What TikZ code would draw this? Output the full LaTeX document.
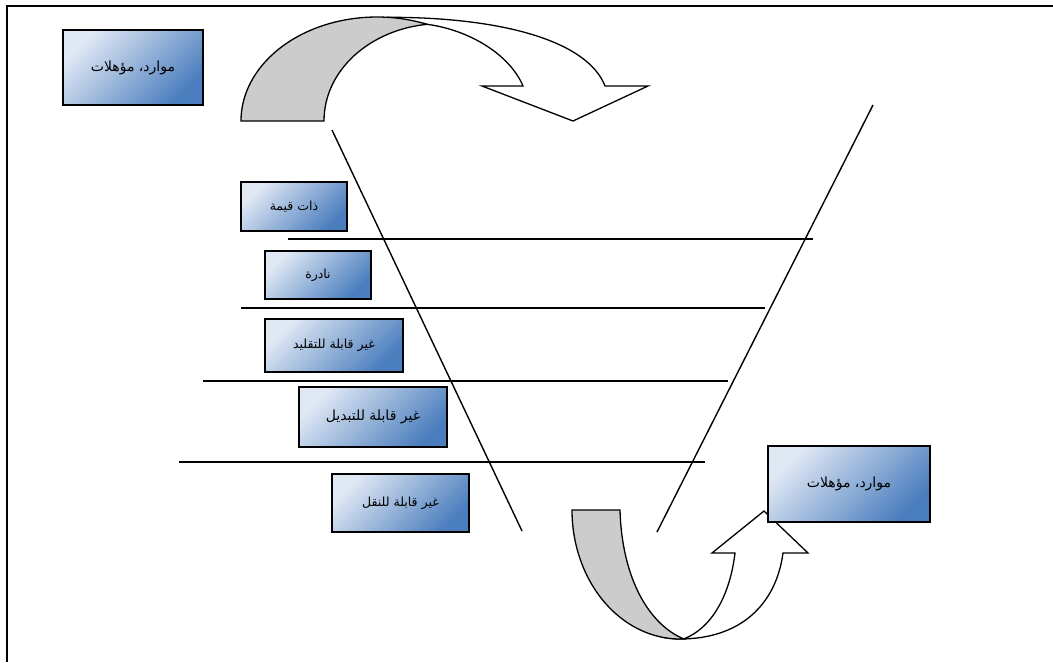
\documentclass[tikz,border=0pt]{standalone}
\usepackage{fontspec}
\newfontfamily\arabicfont[Script=Arabic]{DejaVu Sans}
\TeXXeTstate=1
\newcommand{\artext}[1]{\beginR #1\endR}
\definecolor{boxlight}{RGB}{224,232,244}
\definecolor{boxdark}{RGB}{75,126,190}
\definecolor{ribbongray}{RGB}{204,204,204}
\tikzset{
  labelbox/.style={draw=black, line width=1.6pt, shading=axis,
    top color=boxlight, bottom color=boxdark, shading angle=45,
    inner sep=0pt, font=\arabicfont\fontsize{12.5}{14}\selectfont},
  bigbox/.style={labelbox, font=\arabicfont\fontsize{14}{16}\selectfont},
  midbox/.style={labelbox, font=\arabicfont\fontsize{14}{16}\selectfont},
  funnel/.style={line width=1.4pt},
  level/.style={line width=1.4pt},
  ribbon/.style={line width=1.3pt, line join=miter},
}
\begin{document}
\begin{tikzpicture}[x=1pt,y=-1pt]
\useasboundingbox (0,0) rectangle (1053,662);
% page frame (top and left edges)
\draw[line width=2pt] (1053,5.8) -- (7,5.8) -- (7,662);

% funnel sides
\coordinate (fl1) at (332,130);
\coordinate (fl2) at (522,531);
\coordinate (fr1) at (873,105);
\coordinate (fr2) at (657,532);
\draw[funnel] (fl1) -- (fl2);
\draw[funnel] (fr1) -- (fr2);

% level separators
\coordinate (h1a) at (288,239); \coordinate (h1b) at (813,239);
\coordinate (h2a) at (241,308); \coordinate (h2b) at (765,308);
\coordinate (h3a) at (203,381); \coordinate (h3b) at (728,381);
\coordinate (h4a) at (179,462); \coordinate (h4b) at (705,462);
\draw[level] (h1a) -- (h1b);
\draw[level] (h2a) -- (h2b);
\draw[level] (h3a) -- (h3b);
\draw[level] (h4a) -- (h4b);

% top curved arrow: front face
\filldraw[ribbon, fill=white] (387,17.3) .. controls (505,17) and (588,42) .. (605,86)
  -- (648,86) -- (573,121) -- (482,86) -- (523,86)
  .. controls (510,55) and (470,30) .. (427,24.3) -- cycle;
% top curved arrow: back face
\filldraw[ribbon, fill=ribbongray] (241,121)
  arc[start angle=180, end angle=291.6, x radius=136, y radius=104]
  .. controls (370,30) and (324,70) .. (324,121) -- cycle;

% bottom curved arrow: front face
\filldraw[ribbon, fill=white] (661.2,637)
  arc[start angle=100, end angle=90, x radius=108, y radius=129]
  .. controls (740,639) and (776,605) .. (783,553)
  -- (808,553) -- (764,511) -- (712,553) -- (735,553)
  .. controls (730,595) and (712,628) .. (683.8,638.9) -- cycle;
% bottom curved arrow: back face
\filldraw[ribbon, fill=ribbongray] (572,510)
  arc[start angle=180, end angle=88, x radius=108, y radius=129]
  .. controls (650,625) and (622,580) .. (620,510) -- cycle;

% resource boxes
\node[bigbox, minimum width=140, minimum height=75] (resin) at (133,67.5)
  {\artext{موارد، مؤهلات}};
\node[bigbox, minimum width=162, minimum height=76] (resout) at (849,484)
  {\raisebox{3pt}{\artext{موارد، مؤهلات}}};

% attribute boxes
\node[labelbox, minimum width=106, minimum height=49] (valuable) at (294,206.5)
  {\artext{ذات قيمة}};
\node[labelbox, minimum width=106, minimum height=48] (rare) at (318,275)
  {\artext{نادرة}};
\node[labelbox, minimum width=138, minimum height=53] (inimitable) at (334,345.5)
  {\artext{غير قابلة للتقليد}};
\node[midbox, minimum width=148, minimum height=60] (nonsubst) at (373,417)
  {\artext{غير قابلة للتبديل}};
\node[labelbox, minimum width=137, minimum height=58] (immobile) at (400.5,503)
  {\artext{غير قابلة للنقل}};
\end{tikzpicture}
\end{document}
